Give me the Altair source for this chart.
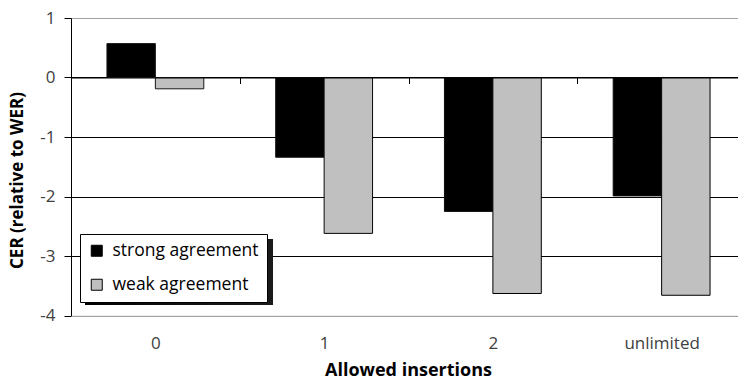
import altair as alt
import pandas as pd

# Character error rate relative to WER, per number of allowed insertions
insertions = ["0", "1", "2", "unlimited"]
agreements = ["strong agreement", "weak agreement"]
strong_values = [0.57, -1.34, -2.25, -1.99]
weak_values = [-0.19, -2.62, -3.63, -3.66]
y_ticks = [1, 0, -1, -2, -3, -4]

rows = []
for cat, s, w in zip(insertions, strong_values, weak_values):
    rows.append({"insertions": cat, "agreement": agreements[0], "cer": s})
    rows.append({"insertions": cat, "agreement": agreements[1], "cer": w})
df = pd.DataFrame(rows)

FONT = "Open Sans"
LABEL_SIZE = 17
LEGEND_SIZE = 17.5
TITLE_SIZE = 17
BAR_STROKE = "#1a1a1a"
W, H = 667, 297.5
zero_offset = -H * 4 / 5  # y = 0 sits 4/5 of the way up from the bottom

bars = alt.Chart(df).mark_bar(strokeWidth=1).encode(
    x=alt.X(
        "insertions:N",
        sort=insertions,
        scale=alt.Scale(range=[0, 675], paddingInner=0, paddingOuter=0),
        axis=alt.Axis(
            orient="bottom",
            offset=zero_offset,
            title="Allowed insertions",
            labelAngle=0,
            labelFont=FONT,
            labelFontSize=LABEL_SIZE,
            labelColor="#404040",
            labelBaseline="middle",
            labelPadding=260,
            domain=True,
            domainColor="#000000",
            domainWidth=1,
            ticks=True,
            tickBand="extent",
            tickSize=6,
            tickColor="#000000",
            titleFont=FONT,
            titleFontSize=18,
            titleFontWeight="bold",
            titleColor="#000000",
            titleX=337,
            titleY=293,
            titleBaseline="middle",
            titleAlign="center",
            zindex=1,
        ),
    ),
    xOffset=alt.XOffset(
        "agreement:N",
        sort=agreements,
        scale=alt.Scale(paddingOuter=0.742, paddingInner=0),
    ),
    y=alt.Y(
        "cer:Q",
        scale=alt.Scale(domain=[-4, 1], nice=False),
        axis=alt.Axis(
            values=y_ticks,
            labelExpr="datum.value < 0 ? '-' + abs(datum.value) : '' + datum.value",
            title="CER (relative to WER)",
            labelFont=FONT,
            labelFontSize=LABEL_SIZE,
            labelColor="#404040",
            labelPadding=9,
            domainColor="#000000",
            tickColor="#000000",
            tickSize=7,
            grid=True,
            gridColor={
                "condition": {"test": "datum.value == 1 || datum.value == -4", "value": "#a0a0a0"},
                "value": "#000000",
            },
            gridWidth=1,
            titleFont=FONT,
            titleFontSize=TITLE_SIZE,
            titleFontWeight="bold",
            titleColor="#000000",
            titleX=-54,
            titleY=162,
            titleAngle=-90,
            titleBaseline="middle",
            titleAlign="center",
            zindex=0,
        ),
    ),
    color=alt.Color(
        "agreement:N",
        sort=agreements,
        scale=alt.Scale(domain=agreements, range=["#000000", "#c0c0c0"]),
        legend=alt.Legend(
            title=None,
            orient="none",
            legendX=9,
            legendY=216,
            fillColor="#ffffff",
            strokeColor="#000000",
            padding=8,
            symbolType="square",
            symbolSize=121,
            symbolStrokeColor="#000000",
            symbolStrokeWidth=1,
            symbolOpacity=1,
            labelFont=FONT,
            labelFontSize=LEGEND_SIZE,
            labelColor="#000000",
            labelOffset=7,
            rowPadding=15,
            zindex=2,
        ),
    ),
    # one outline colour for every bar; its (solid black) gradient legend,
    # set 5px down and right of the key, draws the key's drop shadow
    stroke=alt.Stroke(
        "cer:Q",
        scale=alt.Scale(range=["#000000", BAR_STROKE]),
        legend=alt.Legend(
            title=None,
            orient="none",
            direction="horizontal",
            legendX=14,
            legendY=221,
            padding=0,
            gradientLength=188,
            gradientThickness=66,
            gradientStrokeColor="#000000",
            gradientStrokeWidth=0,
            labelExpr="''",
            labelFontSize=1,
            zindex=1,
        ),
    ),
)

chart = bars.properties(
    width=W,
    height=H,
    autosize=alt.AutoSizeParams(type="none"),
    padding={"left": 71, "top": 18, "right": 0, "bottom": 70.5},
).configure_view(stroke=None).configure(background="#ffffff")

chart.save("out.html", embed_options={"renderer": "svg", "actions": False})
